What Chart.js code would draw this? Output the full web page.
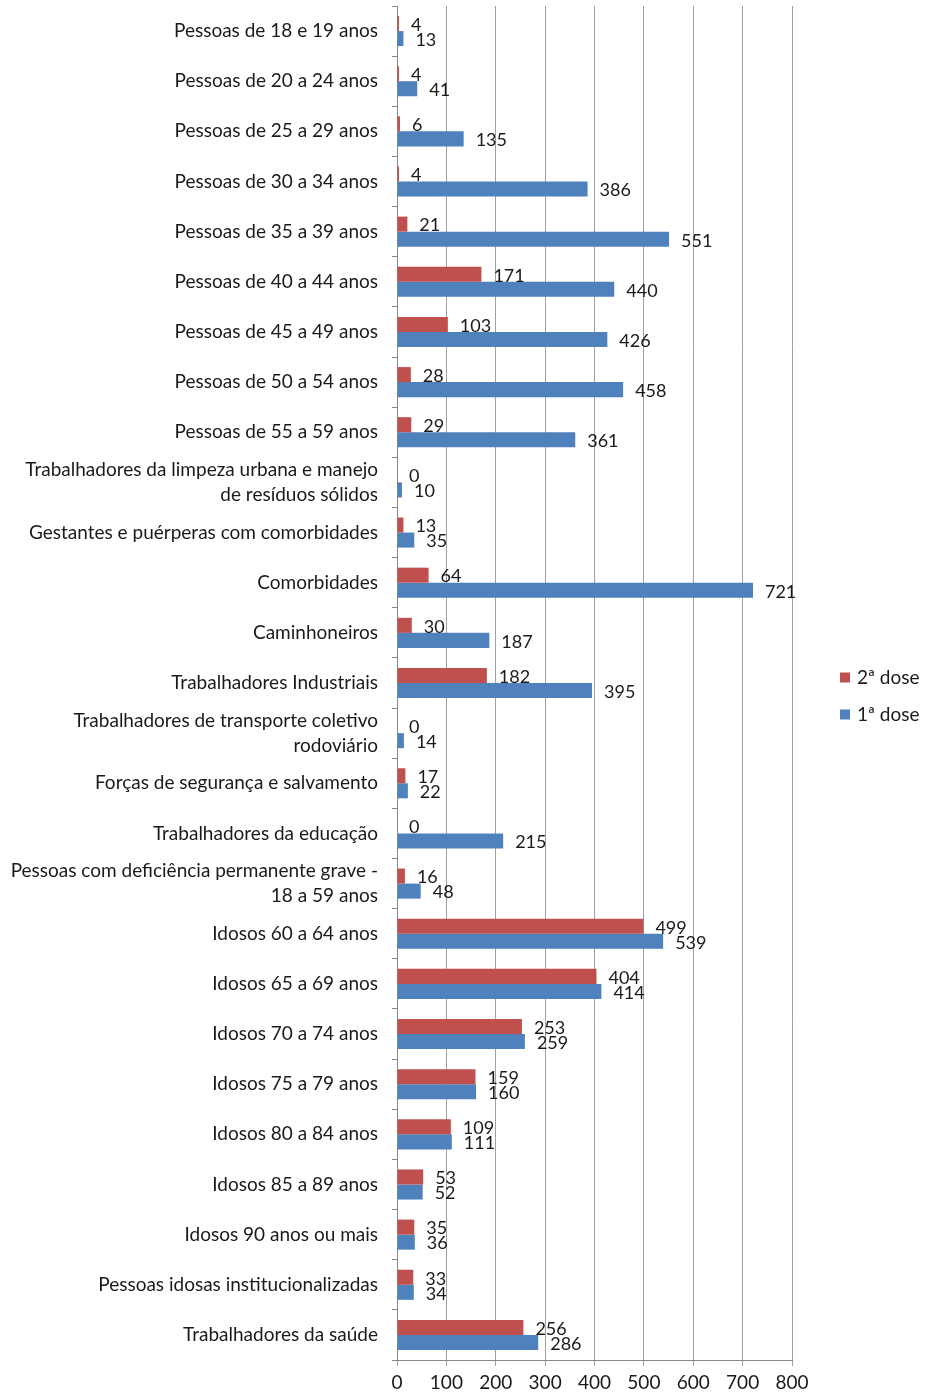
<!DOCTYPE html>
<html><head><meta charset="utf-8">
<script src="https://cdn.jsdelivr.net/npm/chart.js@4/dist/chart.umd.min.js"></script>
<style>html,body{margin:0;padding:0;background:#fff}#wrap{width:939px;height:1392px;position:relative}</style>
</head><body><div id="wrap"><canvas id="c" width="939" height="1392"></canvas></div>
<script>
const categories = [
  "Pessoas de 18 e 19 anos",
  "Pessoas de 20 a 24 anos",
  "Pessoas de 25 a 29 anos",
  "Pessoas de 30 a 34 anos",
  "Pessoas de 35 a 39 anos",
  "Pessoas de 40 a 44 anos",
  "Pessoas de 45 a 49 anos",
  "Pessoas de 50 a 54 anos",
  "Pessoas de 55 a 59 anos",
  ["Trabalhadores da limpeza urbana e manejo", "de resíduos sólidos"],
  "Gestantes e puérperas com comorbidades",
  "Comorbidades",
  "Caminhoneiros",
  "Trabalhadores Industriais",
  ["Trabalhadores de transporte coletivo", "rodoviário"],
  "Forças de segurança e salvamento",
  "Trabalhadores da educação",
  ["Pessoas com deficiência permanente grave -", "18 a 59 anos"],
  "Idosos 60 a 64 anos",
  "Idosos 65 a 69 anos",
  "Idosos 70 a 74 anos",
  "Idosos 75 a 79 anos",
  "Idosos 80 a 84 anos",
  "Idosos 85 a 89 anos",
  "Idosos 90 anos ou mais",
  "Pessoas idosas institucionalizadas",
  "Trabalhadores da saúde"
];
const dose2 = [4, 4, 6, 4, 21, 171, 103, 28, 29, 0, 13, 64, 30, 182, 0, 17, 0, 16, 499, 404, 253, 159, 109, 53, 35, 33, 256];
const dose1 = [13, 41, 135, 386, 551, 440, 426, 458, 361, 10, 35, 721, 187, 395, 14, 22, 215, 48, 539, 414, 259, 160, 111, 52, 36, 34, 286];
const seriesNames = ["2ª dose", "1ª dose"];
const seriesColors = ["#C0504D", "#4F81BD"];
const xMin = 0, xMax = 800, xStep = 100;

const FONT = "Lato, 'Open Sans', sans-serif";

const valueLabels = {
  id: 'valueLabels',
  afterDatasetsDraw(chart) {
    const ctx = chart.ctx;
    ctx.save();
    ctx.font = "18px " + FONT;
    ctx.fillStyle = "#1a1a1a";
    ctx.textAlign = "left";
    ctx.textBaseline = "middle";
    chart.data.datasets.forEach((ds, i) => {
      const meta = chart.getDatasetMeta(i);
      meta.data.forEach((bar, j) => {
        ctx.fillText(String(ds.data[j]), bar.x + 12, bar.y + 1.5);
      });
    });
    ctx.restore();
  }
};

const sideLegend = {
  id: 'sideLegend',
  afterDraw(chart) {
    const ctx = chart.ctx;
    const x0 = chart.chartArea.right + 48;
    const midY = chart.height / 2;
    const gap = 37;
    ctx.save();
    ctx.font = "19px " + FONT;
    ctx.textAlign = "left";
    ctx.textBaseline = "middle";
    chart.data.datasets.forEach((ds, i) => {
      const y = midY + (i - (chart.data.datasets.length - 1) / 2) * gap;
      ctx.fillStyle = ds.backgroundColor;
      ctx.fillRect(x0, y - 5, 10, 10);
      ctx.fillStyle = "#1a1a1a";
      ctx.fillText(ds.label, x0 + 17, y);
    });
    ctx.restore();
  }
};

new Chart(document.getElementById('c'), {
  type: 'bar',
  data: {
    labels: categories,
    datasets: [
      { label: seriesNames[0], data: dose2, backgroundColor: seriesColors[0] },
      { label: seriesNames[1], data: dose1, backgroundColor: seriesColors[1] }
    ]
  },
  options: {
    indexAxis: 'y',
    responsive: false,
    animation: false,
    devicePixelRatio: 1,
    categoryPercentage: 0.6,
    barPercentage: 1.0,
    layout: { padding: { top: 6, right: 147, bottom: 0, left: 0 } },
    plugins: {
      legend: { display: false },
      tooltip: { enabled: false },
      title: { display: false }
    },
    scales: {
      x: {
        min: xMin, max: xMax,
        ticks: { stepSize: xStep, color: "#1a1a1a", font: { family: FONT, size: 19, lineHeight: 1 }, padding: 7.5 },
        grid: { color: "#a0a0a0", lineWidth: 1, tickLength: 6, drawTicks: true },
        border: { color: "#888", width: 1 },
        afterFit(scale) { scale.height = 32; }
      },
      y: {
        ticks: { color: "#1a1a1a", font: { family: FONT, size: 19, lineHeight: 1.32 }, padding: 14, autoSkip: false },
        grid: { drawOnChartArea: false, offset: true, tickLength: 5, color: "#888" },
        border: { color: "#888", width: 1 },
        afterFit(scale) { scale.width = 397; scale.paddingTop = 0; scale.paddingBottom = 0; }
      }
    }
  },
  plugins: [valueLabels, sideLegend]
});
</script>
</body></html>
